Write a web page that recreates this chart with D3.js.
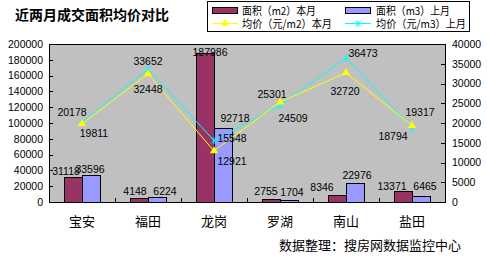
<!DOCTYPE html>
<html>
<head>
<meta charset="utf-8">
<script src="https://cdn.jsdelivr.net/npm/d3@7"></script>
<style>
  body { margin: 0; background: #fff; }
  text { font-family: "Liberation Sans", Arial, sans-serif; }
  .cjk { font-family: "Noto Sans CJK SC", sans-serif; }
</style>
</head>
<body>
<div id="chart"></div>
<script>
// data
var districts = ["宝安", "福田", "龙岗", "罗湖", "南山", "盐田"];
var areaThisMonth = [31118, 4148, 187986, 2755, 8346, 13371];   // 面积（m2）本月
var areaLastMonth = [33596, 6224, 92718, 1704, 22976, 6465];    // 面积（m3）上月
var priceThisMonth = [19811, 32448, 12921, 25301, 32720, 19317]; // 均价（元/m2）本月
var priceLastMonth = [20178, 33652, 15548, 24509, 36473, 18794]; // 均价（元/m3）上月
var leftTicks = d3.range(0, 200001, 20000);
var rightTicks = d3.range(0, 40001, 5000);

var svgWidth = 487;
var svgHeight = 257;
var plot = { left: 49, right: 445, top: 44, bottom: 202 };

var svg = d3.select("#chart")
  .append("svg")
  .attr("width", svgWidth)
  .attr("height", svgHeight);

svg.append("rect").attr("width", svgWidth).attr("height", svgHeight).attr("fill", "#fff");

// scales
var x = d3.scaleBand().domain(districts).range([plot.left, plot.right]);
var xInner = d3.scaleBand().domain(["cur", "prev"]).range([-18, 18]);
var yLeft = d3.scaleLinear().domain([0, 200000]).range([plot.bottom, plot.top]);
var yRight = d3.scaleLinear().domain([0, 40000]).range([plot.bottom, plot.top]);
var cx = d => x(d) + x.bandwidth() / 2;

// plot area
svg.append("rect")
  .attr("x", plot.left).attr("y", plot.top)
  .attr("width", plot.right - plot.left).attr("height", plot.bottom - plot.top)
  .attr("fill", "#C0C0C0").attr("stroke", "#000").attr("shape-rendering", "crispEdges");

// bars
var barSeries = [
  { key: "cur", values: areaThisMonth, color: "#993366" },
  { key: "prev", values: areaLastMonth, color: "#9999FF" }
];
barSeries.forEach(function(s) {
  svg.append("g").selectAll("rect")
    .data(districts)
    .enter()
    .append("rect")
    .attr("x", d => cx(d) + xInner(s.key))
    .attr("y", (d, i) => yLeft(s.values[i]))
    .attr("width", xInner.bandwidth())
    .attr("height", (d, i) => yLeft(0) - yLeft(s.values[i]))
    .attr("fill", s.color)
    .attr("stroke", "#000")
    .attr("shape-rendering", "crispEdges");
});

// axes
var leftAxis = d3.axisLeft(yLeft).tickValues(leftTicks).tickFormat(d3.format("d"))
  .tickSizeInner(-4).tickSizeOuter(0).tickPadding(6);
var rightAxis = d3.axisRight(yRight).tickValues(rightTicks).tickFormat(d3.format("d"))
  .tickSizeInner(-4).tickSizeOuter(0).tickPadding(7);

var gl = svg.append("g").attr("transform", `translate(${plot.left},0)`).call(leftAxis);
var gr = svg.append("g").attr("transform", `translate(${plot.right},0)`).call(rightAxis);
[gl, gr].forEach(function(g) {
  g.selectAll("text").attr("font-size", "10.5px").attr("fill", "#000")
    .style("font-family", "'Liberation Sans', Arial, sans-serif");
  g.selectAll("line, path").attr("stroke", "#000").attr("shape-rendering", "crispEdges");
});

// x axis line with ticks between categories
svg.append("line")
  .attr("x1", plot.left).attr("x2", plot.right)
  .attr("y1", plot.bottom).attr("y2", plot.bottom)
  .attr("stroke", "#000").attr("shape-rendering", "crispEdges");
var bounds = districts.map(d => x(d)).concat([plot.right]);
svg.append("g").selectAll("line")
  .data(bounds)
  .enter()
  .append("line")
  .attr("x1", d => d).attr("x2", d => d)
  .attr("y1", plot.bottom).attr("y2", plot.bottom - 4)
  .attr("stroke", "#000").attr("shape-rendering", "crispEdges");

svg.append("g").selectAll("text")
  .data(districts)
  .enter()
  .append("text")
  .attr("class", "cjk")
  .attr("x", d => cx(d))
  .attr("y", 226)
  .attr("text-anchor", "middle")
  .attr("font-size", "13px")
  .text(d => d);

// price lines
var starPath = "M-3,-3L3,3M-3,3L3,-3M0,-3.5L0,3.5";
var lineSeries = [
  { values: priceLastMonth, color: "#00FFFF", marker: "star" },
  { values: priceThisMonth, color: "#FFFF00", marker: "tri" }
];
lineSeries.forEach(function(s) {
  var line = d3.line()
    .x((v, i) => cx(districts[i]))
    .y(v => yRight(v));
  svg.append("path")
    .datum(s.values)
    .attr("d", line)
    .attr("fill", "none")
    .attr("stroke", s.color)
    .attr("stroke-width", 1);
  var marks = svg.append("g").selectAll("path")
    .data(s.values)
    .enter()
    .append("path")
    .attr("transform", (v, i) => `translate(${cx(districts[i])},${yRight(v)})`);
  if (s.marker === "tri") {
    marks.attr("d", d3.symbol().type(d3.symbolTriangle).size(28)).attr("fill", s.color);
  } else {
    marks.attr("d", starPath).attr("fill", "none").attr("stroke", s.color);
  }
});

// data labels (nudges follow the picture)
var curBarDx = [-7, -4, 5, -5, -15, -11];
var curBarDy = [-2, -4, 3, -5, -4, -1];
var prevBarDx = [-1, 8, 12, 3, 2, 4];
var prevBarDy = [-2, -2, -7, -5, -5, -7];
var lastLineDx = [-10, 0, 18, 13, 17, -19];
var lastLineDy = [-6, -4, 1, 17, -1, 12];
var thisLineDx = [12, 0, 18, -8, -1, 8];
var thisLineDy = [13, 19, 14, -4, 22, -10];

function addLabels(values, px, py, dx, dy) {
  svg.append("g").selectAll("text")
    .data(values)
    .enter()
    .append("text")
    .attr("x", (v, i) => px(v, i) + dx[i])
    .attr("y", (v, i) => py(v, i) + dy[i])
    .attr("text-anchor", "middle")
    .attr("font-size", "10.5px")
    .text(v => v);
}
addLabels(areaThisMonth, (v, i) => cx(districts[i]) + xInner("cur") + 9, v => yLeft(v), curBarDx, curBarDy);
addLabels(areaLastMonth, (v, i) => cx(districts[i]) + xInner("prev") + 9, v => yLeft(v), prevBarDx, prevBarDy);
addLabels(priceLastMonth, (v, i) => cx(districts[i]), v => yRight(v), lastLineDx, lastLineDy);
addLabels(priceThisMonth, (v, i) => cx(districts[i]), v => yRight(v), thisLineDx, thisLineDy);

// title
svg.append("text")
  .attr("class", "cjk")
  .attr("x", 15).attr("y", 20)
  .attr("font-size", "14px").attr("font-weight", "bold")
  .text("近两月成交面积均价对比");

// legend
var legend = svg.append("g");
legend.append("rect")
  .attr("x", 207.5).attr("y", 1.5).attr("width", 262).attr("height", 30)
  .attr("fill", "#fff").attr("stroke", "#000");
var legendItems = [
  { label: "面积（m2）本月", kind: "bar", color: "#993366", col: 0, row: 0 },
  { label: "面积（m3）上月", kind: "bar", color: "#9999FF", col: 1, row: 0 },
  { label: "均价（元/m2）本月", kind: "tri", color: "#FFFF00", col: 0, row: 1 },
  { label: "均价（元/m3）上月", kind: "star", color: "#00FFFF", col: 1, row: 1 }
];
legendItems.forEach(function(it) {
  var x0 = it.col === 0 ? 212 : 345;
  var yc = it.row === 0 ? 10.5 : 23.5;
  if (it.kind === "bar") {
    legend.append("rect")
      .attr("x", x0 + 0.5).attr("y", yc - 3).attr("width", 25).attr("height", 6)
      .attr("fill", it.color).attr("stroke", "#000").attr("shape-rendering", "crispEdges");
  } else {
    legend.append("line")
      .attr("x1", x0).attr("x2", x0 + 26).attr("y1", yc).attr("y2", yc)
      .attr("stroke", it.color);
    var m = legend.append("path").attr("transform", `translate(${x0 + 13},${yc})`);
    if (it.kind === "tri") {
      m.attr("d", d3.symbol().type(d3.symbolTriangle).size(28)).attr("fill", it.color);
    } else {
      m.attr("d", starPath).attr("fill", "none").attr("stroke", it.color);
    }
  }
  legend.append("text")
    .attr("class", "cjk")
    .attr("x", it.col === 0 ? 242 : 376)
    .attr("y", yc + 4)
    .attr("font-size", "11px")
    .attr("textLength", it.row === 0 ? 74 : 90)
    .attr("lengthAdjust", "spacingAndGlyphs")
    .text(it.label);
});

// source note
svg.append("text")
  .attr("class", "cjk")
  .attr("x", 279).attr("y", 250)
  .attr("font-size", "13px")
  .text("数据整理：搜房网数据监控中心");
</script>
</body>
</html>
